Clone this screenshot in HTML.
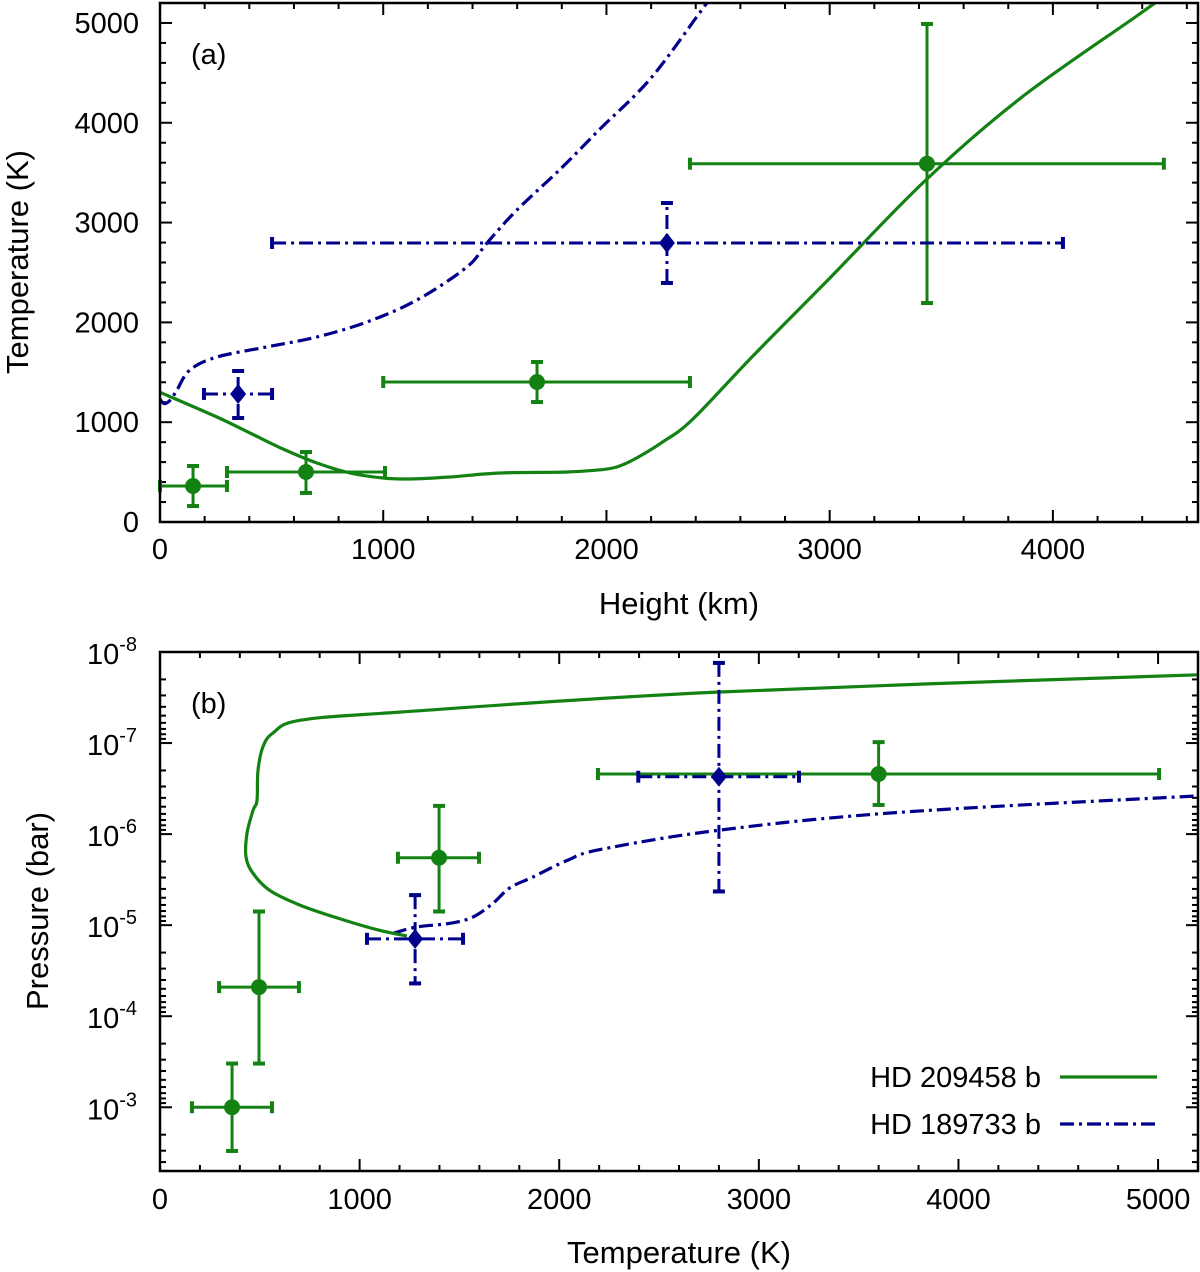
<!DOCTYPE html>
<html><head><meta charset="utf-8"><style>
html,body{margin:0;padding:0;background:#fff;}
svg{display:block;font-family:"Liberation Sans",Arial,sans-serif;}
</style></head><body>
<svg id="chart" width="1200" height="1272" viewBox="0 0 1200 1272" xmlns="http://www.w3.org/2000/svg">
<g id="pa"></g>
<g id="pb"></g>
</svg>
<script>
// ---------- Panel (a) data: Height (km) vs Temperature (K) ----------
const aGreenCurveH = [0,255,403,551,703,851,999,1120,1299,1523,1823,2000,2080,2150,2250,2383,2656,3001,3431,3857,4363,4470];
const aGreenCurveT = [1300,1052,892,731,591,491,441,431,451,491,501,530,580,660,800,1022,1663,2445,3427,4250,5050,5220];
const aBlueCurveH = [0,20,50,76,134,255,479,703,927,1151,1375,1465,1599,1800,1971,2200,2450,2500];
const aBlueCurveT = [1230,1185,1230,1323,1523,1653,1754,1854,2004,2224,2555,2796,3126,3550,3938,4450,5200,5330];
const aGreenPtH = [148,654,1689,3436];
const aGreenPtT = [361,501,1403,3590];
const aGreenPtHlo = [0,300,1000,2374];
const aGreenPtHhi = [300,1008,2374,4497];
const aGreenPtTlo = [160,291,1202,2194];
const aGreenPtThi = [561,701,1603,4990];
const aBluePtH = [350,2271];
const aBluePtT = [1283,2796];
const aBluePtHlo = [197,502];
const aBluePtHhi = [502,4045];
const aBluePtTlo = [1042,2395];
const aBluePtThi = [1513,3196];
const aXTicks = [0,1000,2000,3000,4000];
const aYTicks = [0,1000,2000,3000,4000,5000];

// ---------- Panel (b) data: Temperature (K) vs log10 Pressure (bar) ----------
const bGreenCurveT = [5200,2790,1202,701,566,516,491,486,466,436,431,466,551,701,887,1087,1237];
const bGreenCurveLogP = [-7.75,-7.56,-7.34,-7.25,-7.11,-6.96,-6.70,-6.37,-6.26,-6.01,-5.75,-5.57,-5.38,-5.22,-5.08,-4.95,-4.88];
const bBlueCurveT = [1167,1287,1453,1568,1668,1753,1869,2039,2204,2790,3707,5200];
const bBlueCurveLogP = [-4.91,-4.98,-5.02,-5.09,-5.24,-5.41,-5.53,-5.71,-5.83,-6.04,-6.24,-6.42];
const bGreenPtT = [361,496,1398,3600];
const bGreenPtLogP = [-3.0,-4.32,-5.74,-6.66];
const bGreenPtTlo = [160,296,1192,2194];
const bGreenPtThi = [561,696,1598,5005];
const bGreenPtPlo = [-3.48,-5.15,-6.31,-7.01];
const bGreenPtPhi = [-2.52,-3.48,-5.15,-6.32];
const bBluePtT = [1278,2800];
const bBluePtLogP = [-4.85,-6.63];
const bBluePtTlo = [1037,2396];
const bBluePtThi = [1518,3201];
const bBluePtPlo = [-5.33,-7.88];
const bBluePtPhi = [-4.36,-5.37];
const bXTicks = [0,1000,2000,3000,4000,5000];
const bYDecades = [-8,-7,-6,-5,-4,-3];
const legendLabels = ["HD 209458 b","HD 189733 b"];

const NS="http://www.w3.org/2000/svg";
const GREEN="#138213", BLUE="#00008b";
const DASH="14 5 3 5";
function mk(parent,tag,attrs,text){
  const e=document.createElementNS(NS,tag);
  for(const k in attrs) e.setAttribute(k,attrs[k]);
  if(text!==undefined) e.textContent=text;
  parent.appendChild(e); return e;
}
const A={x0:160,x1:1198,y0:522,y1:3,xmin:0,xmax:4650,ymin:0,ymax:5200};
const ax=v=>A.x0+(v-A.xmin)/(A.xmax-A.xmin)*(A.x1-A.x0);
const ay=v=>A.y0-(v-A.ymin)/(A.ymax-A.ymin)*(A.y0-A.y1);
const B={x0:160,x1:1198,y0:1171,y1:652,xmin:0,xmax:5200,pmin:-8,pmax:-2.3};
const bx=v=>B.x0+(v-B.xmin)/(B.xmax-B.xmin)*(B.x1-B.x0);
const by=v=>B.y1+(v-B.pmin)/(B.pmax-B.pmin)*(B.y0-B.y1);

function clip(g,id,x0,y0,x1,y1){
  const d=mk(g,'defs',{});const c=mk(d,'clipPath',{id:id});
  mk(c,'rect',{x:x0,y:y0,width:x1-x0,height:y1-y0});
}
function curve(g,xs,ys,fx,fy,color,dash,clipId,name){
  const P=xs.map((v,i)=>[fx(v),fy(ys[i])]);
  let d='M'+P[0][0].toFixed(1)+' '+P[0][1].toFixed(1);
  for(let i=0;i<P.length-1;i++){
    const p0=P[Math.max(i-1,0)],p1=P[i],p2=P[i+1],p3=P[Math.min(i+2,P.length-1)];
    const c1=[p1[0]+(p2[0]-p0[0])/6,p1[1]+(p2[1]-p0[1])/6];
    const c2=[p2[0]-(p3[0]-p1[0])/6,p2[1]-(p3[1]-p1[1])/6];
    d+='C'+c1.map(v=>v.toFixed(1)).join(' ')+' '+c2.map(v=>v.toFixed(1)).join(' ')+' '+p2[0].toFixed(1)+' '+p2[1].toFixed(1);
  }
  const p=mk(g,'path',{d:d,fill:'none',stroke:color,'stroke-width':3.2,'stroke-linejoin':'round','clip-path':'url(#'+clipId+')'});
  if(dash) p.setAttribute('stroke-dasharray',dash);
  
  
}
function errpt(g,x,y,xl,xh,yl,yh,color,dash,marker,name){
  const gg=mk(g,'g',{});
  
  
  const s={stroke:color,'stroke-width':3,fill:'none'};
  const h=mk(gg,'line',Object.assign({x1:xl,y1:y,x2:xh,y2:y},s));
  const v=mk(gg,'line',Object.assign({x1:x,y1:yl,x2:x,y2:yh},s));
  if(dash){h.setAttribute('stroke-dasharray',dash);v.setAttribute('stroke-dasharray',dash);}
  const c=6;
  mk(gg,'line',Object.assign({x1:xl,y1:y-c,x2:xl,y2:y+c},s,{'stroke-width':4}));
  mk(gg,'line',Object.assign({x1:xh,y1:y-c,x2:xh,y2:y+c},s,{'stroke-width':4}));
  mk(gg,'line',Object.assign({x1:x-c,y1:yl,x2:x+c,y2:yl},s,{'stroke-width':4}));
  mk(gg,'line',Object.assign({x1:x-c,y1:yh,x2:x+c,y2:yh},s,{'stroke-width':4}));
  if(marker==='circle') mk(gg,'circle',{cx:x,cy:y,r:8,fill:color});
  else mk(gg,'path',{d:`M${x} ${y-10}L${x+8} ${y}L${x} ${y+10}L${x-8} ${y}Z`,fill:color});
}
function frame(g,x0,y0,x1,y1){
  const r=mk(g,'rect',{x:x0,y:y1,width:x1-x0,height:y0-y1,fill:'none',stroke:'#000','stroke-width':2.5});
  
  
}
function tick(g,x1,y1,x2,y2){mk(g,'line',{x1:x1,y1:y1,x2:x2,y2:y2,stroke:'#000','stroke-width':2});}

// ===== Panel A =====
const ga=document.getElementById('pa');
clip(ga,'ca',A.x0,A.y1,A.x1,A.y0);
for(let v=0;v<=A.xmax;v+=200){const x=ax(v),L=(v%1000===0)?12:6;tick(ga,x,A.y0,x,A.y0-L);tick(ga,x,A.y1,x,A.y1+L);}
for(let v=0;v<=A.ymax;v+=200){const y=ay(v),L=(v%1000===0)?12:6;tick(ga,A.x0,y,A.x0+L,y);tick(ga,A.x1,y,A.x1-L,y);}
aXTicks.forEach(v=>{const t=mk(ga,'text',{x:ax(v),y:559,'font-size':29,'text-anchor':'middle'},String(v));
  });
aYTicks.forEach(v=>{const t=mk(ga,'text',{x:139,y:ay(v)+10,'font-size':29,'text-anchor':'end'},String(v));
  });
curve(ga,aBlueCurveH,aBlueCurveT,ax,ay,BLUE,DASH,'ca','hd189733-profile-a');
curve(ga,aGreenCurveH,aGreenCurveT,ax,ay,GREEN,null,'ca','hd209458-profile-a');
aGreenPtH.forEach((h,i)=>errpt(ga,ax(h),ay(aGreenPtT[i]),ax(aGreenPtHlo[i]),ax(aGreenPtHhi[i]),ay(aGreenPtTlo[i]),ay(aGreenPtThi[i]),GREEN,null,'circle','hd209458-point-a'));
aBluePtH.forEach((h,i)=>errpt(ga,ax(h),ay(aBluePtT[i]),ax(aBluePtHlo[i]),ax(aBluePtHhi[i]),ay(aBluePtTlo[i]),ay(aBluePtThi[i]),BLUE,DASH,'diamond','hd189733-point-a'));
frame(ga,A.x0,A.y0,A.x1,A.y1);
let t;
t=mk(ga,'text',{x:191,y:64,'font-size':29},'(a)');
t=mk(ga,'text',{x:679,y:614,'font-size':31,'text-anchor':'middle'},'Height (km)');
t=mk(ga,'text',{x:0,y:0,'font-size':31,'text-anchor':'middle',transform:'translate(28,262) rotate(-90)'},'Temperature (K)');

// ===== Panel B =====
const gb=document.getElementById('pb');
clip(gb,'cb',B.x0,B.y1,B.x1,B.y0);
for(let v=0;v<=B.xmax;v+=200){const x=bx(v),L=(v%1000===0)?12:6;tick(gb,x,B.y0,x,B.y0-L);tick(gb,x,B.y1,x,B.y1+L);}
for(let d=-9;d<=-2;d++){for(let m=1;m<10;m++){const lp=d+Math.log10(m);
  if(lp<B.pmin-1e-6||lp>B.pmax+1e-6)continue;const y=by(lp),L=(m===1)?12:6;
  tick(gb,B.x0,y,B.x0+L,y);tick(gb,B.x1,y,B.x1-L,y);}}
bXTicks.forEach(v=>{const tt=mk(gb,'text',{x:bx(v),y:1209,'font-size':29,'text-anchor':'middle'},String(v));
  });
bYDecades.forEach(d=>{const tt=mk(gb,'text',{x:137,y:by(d)+12,'font-size':29,'text-anchor':'end'});
  
  mk(tt,'tspan',{},'10');mk(tt,'tspan',{dy:-13,'font-size':20},String(d));});
curve(gb,bBlueCurveT,bBlueCurveLogP,bx,by,BLUE,DASH,'cb','hd189733-profile-b');
curve(gb,bGreenCurveT,bGreenCurveLogP,bx,by,GREEN,null,'cb','hd209458-profile-b');
bGreenPtT.forEach((v,i)=>errpt(gb,bx(v),by(bGreenPtLogP[i]),bx(bGreenPtTlo[i]),bx(bGreenPtThi[i]),by(bGreenPtPlo[i]),by(bGreenPtPhi[i]),GREEN,null,'circle','hd209458-point-b'));
bBluePtT.forEach((v,i)=>errpt(gb,bx(v),by(bBluePtLogP[i]),bx(bBluePtTlo[i]),bx(bBluePtThi[i]),by(bBluePtPlo[i]),by(bBluePtPhi[i]),BLUE,DASH,'diamond','hd189733-point-b'));
frame(gb,B.x0,B.y0,B.x1,B.y1);
t=mk(gb,'text',{x:191,y:713,'font-size':29},'(b)');
t=mk(gb,'text',{x:679,y:1263,'font-size':31,'text-anchor':'middle'},'Temperature (K)');
t=mk(gb,'text',{x:0,y:0,'font-size':31,'text-anchor':'middle',transform:'translate(48,911) rotate(-90)'},'Pressure (bar)');
const lg=mk(gb,'g',{});


[[GREEN,null,1077],[BLUE,DASH,1124]].forEach((c,i)=>{
  const e=mk(lg,'g',{});
  
  
  mk(e,'text',{x:1041,y:c[2]+10,'font-size':29,'text-anchor':'end'},legendLabels[i]);
  const l=mk(e,'line',{x1:1060,y1:c[2],x2:1157,y2:c[2],stroke:c[0],'stroke-width':3.2});
  if(c[1]) l.setAttribute('stroke-dasharray',c[1]);
});
</script>
</body></html>
